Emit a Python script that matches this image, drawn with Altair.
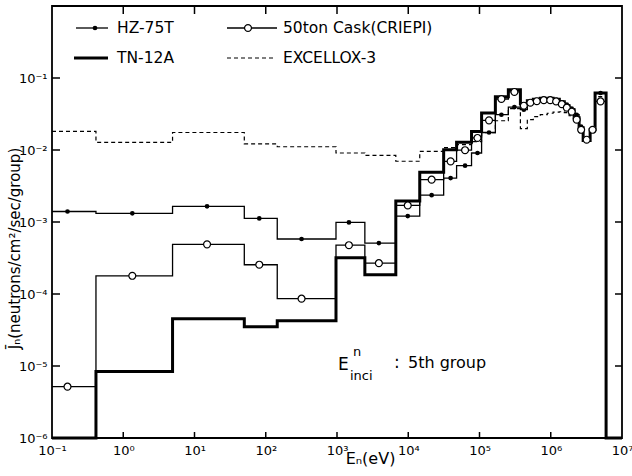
import altair as alt
import pandas as pd

# group boundaries (eV)
bounds = [0.1, 0.414, 4.92, 50.0, 145, 968, 2.46e3, 6.69e3, 1.45e4, 3.14e4, 4.77e4,
          7.73e4, 1.07e5, 1.67e5, 2.54e5, 3.75e5, 4.69e5, 5.69e5, 7.13e5, 8.93e5,
          1.08e6, 1.32e6, 1.55e6, 1.81e6, 2.13e6, 2.50e6, 2.85e6, 3.57e6, 4.19e6,
          5.98e6, 1e7]

hz75t = [1.40e-3, 1.32e-3, 1.65e-3, 1.12e-3, 5.81e-4, 9.87e-4, 5.10e-4, 1.21e-3, 2.36e-3,
         4.08e-3, 6.05e-3, 9.08e-3, 1.75e-2, 3.09e-2, 3.95e-2, 3.63e-2, 4.50e-2, 4.73e-2,
         5.00e-2, 5.08e-2, 4.92e-2, 4.58e-2, 4.26e-2, 3.75e-2, 3.09e-2, 2.11e-2, 1.44e-2,
         1.85e-2, 6.19e-2, 1e-6]

cask50 = [5.16e-6, 1.79e-4, 4.89e-4, 2.55e-4, 8.61e-5, 4.76e-4, 2.68e-4, 1.70e-3, 3.87e-3,
          6.95e-3, 9.93e-3, 1.47e-2, 2.58e-2, 5.11e-2, 6.40e-2, 4.12e-2, 4.54e-2, 4.76e-2,
          4.92e-2, 4.92e-2, 4.73e-2, 4.33e-2, 3.87e-2, 3.40e-2, 2.64e-2, 1.91e-2, 1.39e-2,
          1.91e-2, 4.73e-2, 1e-6]

tn12a = [1e-6, 8.41e-6, 4.54e-5, 3.52e-5, 4.26e-5, 3.19e-4, 1.85e-4, 1.95e-3, 4.92e-3,
         1.01e-2, 1.28e-2, 1.81e-2, 3.27e-2, 5.50e-2, 6.88e-2, 4.40e-2, 4.84e-2, 5.08e-2,
         5.24e-2, 5.24e-2, 5.08e-2, 4.69e-2, 4.12e-2, 3.63e-2, 2.81e-2, 2.04e-2, 1.35e-2,
         1.91e-2, 6.19e-2, 1e-6]

excellox3 = [1.81e-2, 1.28e-2, 1.75e-2, 1.22e-2, 1.11e-2, 9.08e-3, 8.41e-3, 6.98e-3, 9.57e-3,
             1.08e-2, 1.19e-2, 1.31e-2, 1.74e-2, 2.55e-2, 3.75e-2, 1.98e-2, 2.64e-2, 2.90e-2,
             3.09e-2, 3.24e-2, 3.35e-2, 3.40e-2, 3.30e-2, 2.99e-2, 2.55e-2, 2.04e-2, 1.39e-2,
             1.79e-2, 5.50e-2, 1e-6]

# marker energies (eV) for groups 1..29
marker_e = [0.165, 1.34, 15.0, 81.1, 318, 1.47e3, 3.87e3, 9.84e3, 2.13e4, 3.93e4, 6.27e4,
            9.37e4, 1.36e5, 2.03e5, 3.09e5, 4.19e5, 5.17e5, 6.37e5, 7.98e5, 9.84e5, 1.19e6,
            1.43e6, 1.68e6, 1.97e6, 2.31e6, 2.67e6, 3.19e6, 3.86e6, 5.00e6]

x_ticks = [1, 10, 100, 1e3, 1e4, 1e5, 1e6]
y_ticks = [1e-5, 1e-4, 1e-3, 1e-2, 1e-1]

W, H = 570, 432
FONT = "DejaVu Sans"


def steps(vals):
    rows = []
    for i, v in enumerate(vals):
        rows.append({"e": bounds[i], "j": v, "o": 2 * i})
        rows.append({"e": bounds[i + 1], "j": v, "o": 2 * i + 1})
    return pd.DataFrame(rows)


label_expr = ("'10' + (datum.value < 0.5 ? '\u207b' : '') + "
              "['\u2070','\u00b9','\u00b2','\u00b3','\u2074','\u2075','\u2076','\u2077']"
              "[abs(round(log(datum.value)/LN10))]")

xscale = alt.Scale(type="log", domain=[0.1, 1e7], nice=False)
yscale = alt.Scale(type="log", domain=[1e-6, 1], nice=False)

xaxis = alt.Axis(values=[0.1, 1, 10, 100, 1e3, 1e4, 1e5, 1e6, 1e7], labelExpr=label_expr,
                 ticks=False, domain=False, grid=False, labelFont=FONT, labelFontSize=13,
                 labelColor="black", labelPadding=6, labelFlush=False,
                 title="E\u2099(eV)", titleFont=FONT, titleFontSize=16, titleFontWeight="normal",
                 titleColor="black", titleX=318, titleY=25, titleAlign="center",
                 titleBaseline="alphabetic")
yaxis = alt.Axis(values=[1e-6, 1e-5, 1e-4, 1e-3, 1e-2, 1e-1], labelExpr=label_expr,
                 ticks=False, domain=False, grid=False, labelFont=FONT, labelFontSize=13,
                 labelColor="black", labelPadding=5, labelFlush=False,
                 title="J\u0304\u2099(neutrons/cm\u00b2/sec/group)", titleFont=FONT,
                 titleFontSize=15, titleFontWeight="normal", titleColor="black",
                 titleX=-30, titleY=242, titleAlign="center", titleAngle=-90)

X = lambda: alt.X("e:Q", scale=xscale, axis=xaxis)
Y = lambda: alt.Y("j:Q", scale=yscale, axis=yaxis)


def step_layer(vals, width, dash=None):
    kw = dict(color="black", strokeWidth=width, interpolate="linear")
    if dash:
        kw["strokeDash"] = dash
    return alt.Chart(steps(vals)).mark_line(**kw).encode(x=X(), y=Y(), order="o:Q")


exc_line = step_layer(excellox3, 1.2, dash=[4, 3])
tn_line = step_layer(tn12a, 3.0)
hz_line = step_layer(hz75t, 1.3)
cask_line = step_layer(cask50, 1.3)

hz_pts = alt.Chart(pd.DataFrame({"e": marker_e, "j": hz75t[:29]})).mark_point(
    shape="circle", filled=True, color="black", size=22, opacity=1).encode(x=X(), y=Y())

cask_pts = alt.Chart(pd.DataFrame({"e": marker_e, "j": cask50[:29]})).mark_point(
    shape="circle", filled=True, fill="white", stroke="black", strokeWidth=1.2,
    size=48, opacity=1).encode(x=X(), y=Y())

# inward ticks on all four sides
xt = pd.DataFrame({"e": x_ticks})
yt = pd.DataFrame({"j": y_ticks})
tick_b = alt.Chart(xt).mark_rule(color="black", strokeWidth=1.5).encode(
    x=X(), y=alt.value(H), y2=alt.value(H - 6))
tick_t = alt.Chart(xt).mark_rule(color="black", strokeWidth=1.5).encode(
    x=X(), y=alt.value(0), y2=alt.value(8))
tick_l = alt.Chart(yt).mark_rule(color="black", strokeWidth=1.5).encode(
    y=Y(), x=alt.value(0), x2=alt.value(8))
tick_r = alt.Chart(yt).mark_rule(color="black", strokeWidth=1.5).encode(
    y=Y(), x=alt.value(W), x2=alt.value(W - 7))

one = pd.DataFrame({"a": [0]})


def seg(x1, x2, y, width, dash=None):
    kw = dict(color="black", strokeWidth=width)
    if dash:
        kw["strokeDash"] = dash
    return alt.Chart(one).mark_rule(**kw).encode(
        x=alt.value(x1), x2=alt.value(x2), y=alt.value(y))


def txt(s, x, y, size, baseline="middle"):
    return alt.Chart(one).mark_text(text=s, font=FONT, fontSize=size, color="black",
                                    align="left", baseline=baseline).encode(
        x=alt.value(x), y=alt.value(y))


def dot(x, y, **kw):
    return alt.Chart(one).mark_point(shape="circle", opacity=1, **kw).encode(
        x=alt.value(x), y=alt.value(y))


legend = [
    seg(24, 56, 22, 1.3), dot(43, 22, filled=True, color="black", size=22),
    txt("HZ-75T", 65, 22, 15.5),
    seg(22, 56, 52, 3.0), txt("TN-12A", 65, 52, 15.5),
    seg(175, 225, 22, 1.3),
    dot(196, 22, filled=True, fill="white", stroke="black", strokeWidth=1.2, size=48),
    txt("50ton Cask(CRIEPI)", 231, 22, 15.5),
    seg(175, 221, 52, 1.2, dash=[4, 3]), txt("EXCELLOX-3", 231, 52, 15.5),
]

annot = [
    txt("E", 286, 364, 17, "alphabetic"),
    txt("n", 301, 350, 13, "alphabetic"),
    txt("inci", 298, 374, 13, "alphabetic"),
    txt(":", 342, 362, 17, "alphabetic"),
    txt("5th group", 356, 362, 16, "alphabetic"),
]

chart = alt.layer(
    exc_line, tn_line, hz_line, cask_line, hz_pts, cask_pts,
    tick_b, tick_t, tick_l, tick_r, *legend, *annot
).properties(
    width=W, height=H, background="white",
    autosize=alt.AutoSizeParams(type="none"),
    padding={"left": 52, "top": 6, "right": 10, "bottom": 38},
).configure_view(stroke="black", strokeWidth=1.8)

chart.save("out.html", embed_options={"renderer": "svg", "actions": False})
